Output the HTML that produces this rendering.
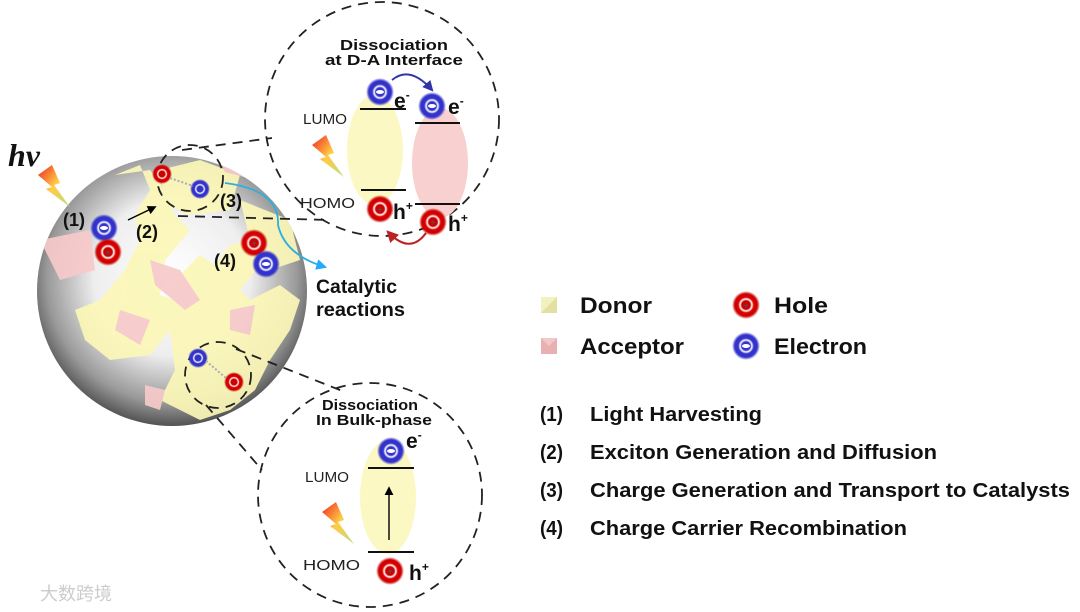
<!DOCTYPE html>
<html><head><meta charset="utf-8"><style>
html,body{margin:0;padding:0;background:#fff;}
svg{display:block;font-family:"Liberation Sans",sans-serif;}
</style></head><body>
<svg width="1080" height="612" viewBox="0 0 1080 612" xmlns="http://www.w3.org/2000/svg">
<defs>
<radialGradient id="sph" cx="0.5" cy="0.45" r="0.58">
<stop offset="0" stop-color="#ffffff"/><stop offset="0.5" stop-color="#eeeeee"/>
<stop offset="0.8" stop-color="#999"/><stop offset="1" stop-color="#3a3a3a"/></radialGradient>
<radialGradient id="hole"><stop offset="0.3" stop-color="#c00"/><stop offset="0.42" stop-color="#fff"/><stop offset="0.56" stop-color="#d00"/><stop offset="0.8" stop-color="#c00"/><stop offset="1" stop-color="#c00" stop-opacity="0"/></radialGradient>
<radialGradient id="elec"><stop offset="0.3" stop-color="#33c"/><stop offset="0.42" stop-color="#fff"/><stop offset="0.56" stop-color="#33c"/><stop offset="0.8" stop-color="#33c"/><stop offset="1" stop-color="#33c" stop-opacity="0"/></radialGradient>
<linearGradient id="bolt" x1="0" y1="0" x2="1" y2="1"><stop offset="0" stop-color="#e22"/><stop offset="0.5" stop-color="#fc4"/><stop offset="1" stop-color="#bd8"/></linearGradient>
<g id="H"><circle r="14" fill="url(#hole)"/><text y="4" font-size="10" text-anchor="middle" fill="#555">+</text></g>
<g id="E"><circle r="14" fill="url(#elec)"/><ellipse rx="4" ry="2" fill="#fff"/></g>
<g id="h"><circle r="10" fill="url(#hole)"/></g>
<g id="e"><circle r="10" fill="url(#elec)"/></g>
<g id="B"><polygon points="0,0 14,-10 22,8 16,10 32,32 8,14 14,12" fill="url(#bolt)"/></g>
<marker id="ah" viewBox="0 0 10 10" refX="8" refY="5" markerWidth="6" markerHeight="6" orient="auto"><path d="M0,0L10,5L0,10z" fill="#000"/></marker>
<marker id="ab" viewBox="0 0 10 10" refX="8" refY="5" markerWidth="6" markerHeight="6" orient="auto"><path d="M0,0L10,5L0,10z" fill="#2af"/></marker>
<marker id="abl" viewBox="0 0 10 10" refX="8" refY="5" markerWidth="6" markerHeight="6" orient="auto"><path d="M0,0L10,5L0,10z" fill="#33a"/></marker>
<marker id="ar" viewBox="0 0 10 10" refX="8" refY="5" markerWidth="6" markerHeight="6" orient="auto"><path d="M0,0L10,5L0,10z" fill="#b22"/></marker>
<clipPath id="sc"><circle cx="172" cy="291" r="135"/></clipPath>
</defs>
<circle cx="172" cy="291" r="135" fill="url(#sph)"/>
<g clip-path="url(#sc)" opacity="0.92">
<path d="M115,175 L140,165 L150,190 L135,215 L140,240 L125,270 L100,300 L75,310 L85,340 L110,360 L150,355 L170,330 L175,370 L160,400 L200,420 L230,410 L255,390 L270,360 L290,330 L300,300 L280,285 L250,300 L240,290 L260,265 L250,240 L230,245 L215,265 L200,255 L180,275 L175,300 L160,295 L165,260 L190,230 L175,215 L165,190 L150,170Z" fill="#fbf7b8"/>
<path d="M160,170 L200,160 L240,175 L230,210 L185,215 L165,200Z" fill="#fbf7b8"/>
<path d="M240,200 L290,220 L300,260 L270,270 L250,240Z" fill="#fbf7b8"/>
<path d="M40,240 L90,230 L95,270 L60,280Z" fill="#f7c9c9"/>
<path d="M150,260 L180,270 L200,300 L185,310 L155,285Z" fill="#f7c9c9"/>
<path d="M215,150 L260,160 L255,180 L225,172Z" fill="#f7c9c9"/>
<path d="M120,310 L150,320 L140,345 L115,330Z" fill="#f7c9c9"/>
<path d="M230,310 L255,305 L250,335 L230,330Z" fill="#f7c9c9"/>
<path d="M145,385 L165,390 L160,410 L145,405Z" fill="#f7c9c9"/>
</g>
<g stroke="#222" stroke-width="1.8" fill="none" stroke-dasharray="10,7">
<circle cx="190" cy="178" r="33"/>
<circle cx="218" cy="375" r="33"/>
<line x1="182" y1="150" x2="272" y2="138"/>
<line x1="178" y1="216" x2="330" y2="220"/>
<line x1="236" y1="349" x2="345" y2="392"/>
<line x1="206" y1="405" x2="262" y2="470"/>
<circle cx="382" cy="119" r="117"/>
<circle cx="370" cy="495" r="112"/>
</g>
<use href="#E" x="104" y="228"/><use href="#H" x="108" y="252"/>
<use href="#h" x="162" y="174"/><use href="#e" x="200" y="189"/>
<line x1="170" y1="178" x2="193" y2="186" stroke="#aab" stroke-width="2" stroke-dasharray="2,2"/>
<use href="#e" x="198" y="358"/><use href="#h" x="234" y="382"/>
<line x1="206" y1="361" x2="226" y2="378" stroke="#aab" stroke-width="2" stroke-dasharray="2,2"/>
<use href="#H" x="254" y="243"/><use href="#E" x="266" y="264"/>
<line x1="128" y1="220" x2="155" y2="207" stroke="#000" stroke-width="1.5" marker-end="url(#ah)"/>
<path d="M225,183 Q280,190 278,225 Q285,255 325,267" fill="none" stroke="#2ab0e0" stroke-width="1.8" marker-end="url(#ab)"/>
<g font-weight="bold" font-size="18" fill="#111">
<text x="63" y="226">(1)</text><text x="136" y="238">(2)</text><text x="220" y="207">(3)</text><text x="214" y="267">(4)</text>
<text x="316" y="293" font-size="19" textLength="81" lengthAdjust="spacingAndGlyphs">Catalytic</text><text x="316" y="316" font-size="19" textLength="89" lengthAdjust="spacingAndGlyphs">reactions</text>
</g>
<text x="8" y="166" font-family="Liberation Serif,serif" font-style="italic" font-weight="bold" font-size="32" fill="#111">hν</text>
<use href="#B" x="38" y="175"/>
<g font-weight="bold" font-size="15" fill="#111">
<text x="340" y="50" textLength="108" lengthAdjust="spacingAndGlyphs">Dissociation</text><text x="325" y="65" textLength="138" lengthAdjust="spacingAndGlyphs">at D-A Interface</text></g>
<ellipse cx="375" cy="150" rx="28" ry="55" fill="#fbf8c4"/>
<ellipse cx="440" cy="163" rx="28" ry="55" fill="#f9d0d0"/>
<line x1="360" y1="109" x2="406" y2="109" stroke="#111" stroke-width="2"/>
<line x1="415" y1="123" x2="460" y2="123" stroke="#111" stroke-width="2"/>
<line x1="361" y1="190" x2="406" y2="190" stroke="#111" stroke-width="2"/>
<line x1="415" y1="204" x2="460" y2="204" stroke="#111" stroke-width="2"/>
<use href="#E" x="380" y="92"/><use href="#E" x="432" y="106"/>
<use href="#H" x="380" y="209"/><use href="#H" x="433" y="222"/>
<g font-weight="bold" font-size="21" fill="#111"><text x="394" y="108">e<tspan font-size="12" dy="-9">-</tspan></text>
<text x="448" y="114">e<tspan font-size="12" dy="-9">-</tspan></text>
<text x="393" y="219">h<tspan font-size="12" dy="-9">+</tspan></text><text x="448" y="231">h<tspan font-size="12" dy="-9">+</tspan></text></g>
<g font-size="15" fill="#222"><text x="303" y="124" textLength="44" lengthAdjust="spacingAndGlyphs">LUMO</text><text x="300" y="208" textLength="55" lengthAdjust="spacingAndGlyphs">HOMO</text></g>
<use href="#B" x="312" y="145"/>
<path d="M392,80 Q410,65 432,90" fill="none" stroke="#33a" stroke-width="1.8" marker-end="url(#abl)"/>
<path d="M426,233 Q410,255 388,232" fill="none" stroke="#b22" stroke-width="2" marker-end="url(#ar)"/>
<g font-weight="bold" font-size="15" fill="#111">
<text x="322" y="410" textLength="96" lengthAdjust="spacingAndGlyphs">Dissociation</text><text x="316" y="425" textLength="116" lengthAdjust="spacingAndGlyphs">In Bulk-phase</text></g>
<ellipse cx="388" cy="497" rx="28" ry="57" fill="#fbf8c4"/>
<line x1="368" y1="468" x2="414" y2="468" stroke="#111" stroke-width="2"/>
<line x1="368" y1="552" x2="414" y2="552" stroke="#111" stroke-width="2"/>
<line x1="389" y1="540" x2="389" y2="488" stroke="#111" stroke-width="1.5" marker-end="url(#ah)"/>
<use href="#E" x="391" y="451"/><use href="#H" x="390" y="571"/>
<g font-weight="bold" font-size="21" fill="#111"><text x="406" y="448">e<tspan font-size="12" dy="-9">-</tspan></text>
<text x="409" y="580">h<tspan font-size="12" dy="-9">+</tspan></text></g>
<g font-size="15" fill="#222"><text x="305" y="482" textLength="44" lengthAdjust="spacingAndGlyphs">LUMO</text><text x="303" y="570" textLength="57" lengthAdjust="spacingAndGlyphs">HOMO</text></g>
<use href="#B" x="322" y="512"/>
<path d="M541,297 L557,297 L557,313 L541,313Z" fill="#f3f1c0"/><path d="M541,313 L557,297 L557,313Z" fill="#e2dfa0"/>
<path d="M541,338 L557,338 L557,354 L541,354Z" fill="#f3c8c8"/><path d="M541,338 L549,346 L557,338 L557,354 L541,354Z" fill="#e8b0b0"/>
<use href="#H" x="746" y="305"/><use href="#E" x="746" y="346"/>
<g font-weight="bold" font-size="22" fill="#111">
<text x="580" y="313" textLength="72" lengthAdjust="spacingAndGlyphs">Donor</text><text x="580" y="354" textLength="104" lengthAdjust="spacingAndGlyphs">Acceptor</text>
<text x="774" y="313" textLength="54" lengthAdjust="spacingAndGlyphs">Hole</text><text x="774" y="354" textLength="93" lengthAdjust="spacingAndGlyphs">Electron</text></g>
<g font-weight="bold" font-size="20" fill="#111">
<text x="540" y="421" textLength="23" lengthAdjust="spacingAndGlyphs">(1)</text><text x="590" y="421" textLength="172" lengthAdjust="spacingAndGlyphs">Light Harvesting</text>
<text x="540" y="459" textLength="23" lengthAdjust="spacingAndGlyphs">(2)</text><text x="590" y="459" textLength="347" lengthAdjust="spacingAndGlyphs">Exciton Generation and Diffusion</text>
<text x="540" y="497" textLength="23" lengthAdjust="spacingAndGlyphs">(3)</text><text x="590" y="497" textLength="480" lengthAdjust="spacingAndGlyphs">Charge Generation and Transport to Catalysts</text>
<text x="540" y="535" textLength="23" lengthAdjust="spacingAndGlyphs">(4)</text><text x="590" y="535" textLength="317" lengthAdjust="spacingAndGlyphs">Charge Carrier Recombination</text></g>
<text x="40" y="600" font-family="Liberation Sans,'Noto Sans CJK SC',sans-serif" font-size="18" fill="#ccc">大数跨境</text>
</svg>
</body></html>
